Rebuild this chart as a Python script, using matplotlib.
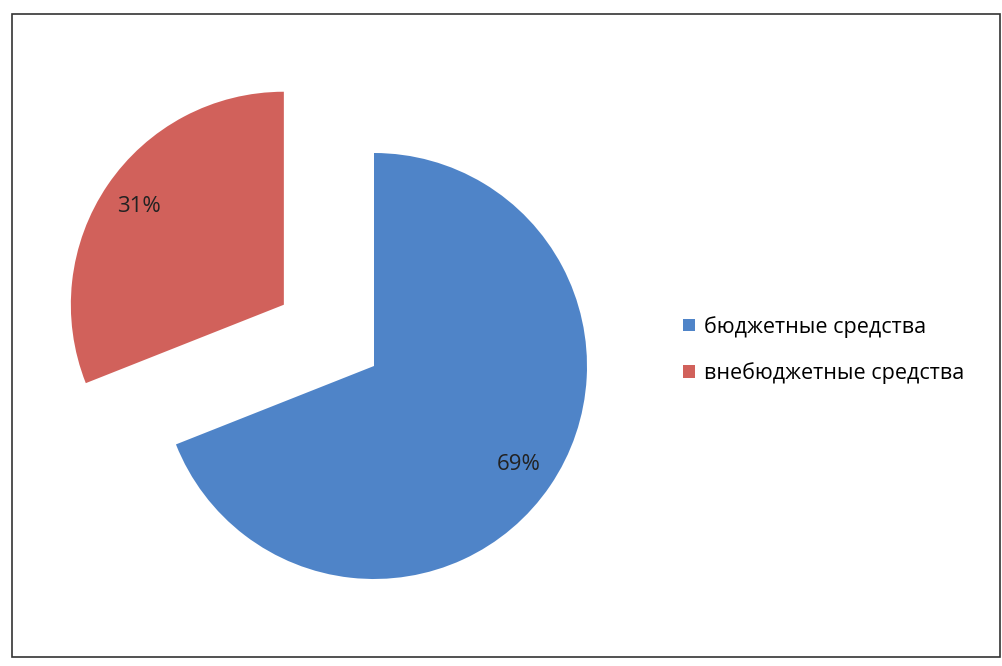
import matplotlib.pyplot as plt
from matplotlib.patches import Rectangle

labels = ["бюджетные средства", "внебюджетные средства"]
shares = [69, 31]
colors = ["#4f84c8", "#d1615b"]

plt.rcParams["font.family"] = ["Open Sans", "DejaVu Sans"]

fig = plt.figure(figsize=(10.02, 6.66), dpi=100)
ax = fig.add_axes([0, 0, 1, 1])

# frame of the chart area
ax.add_patch(Rectangle((12, 9), 988, 643, fill=False, edgecolor="#333333", linewidth=1.2))

# explode is in data units here (pixels), red slice pulled out ~0.51 radius
wedges, texts, autotexts = ax.pie(
    shares, colors=colors, startangle=90, counterclock=False,
    center=(374, 300), radius=213, explode=[0, 109],
    autopct="%1.0f%%", pctdistance=0.82, frame=True,
    textprops={"fontsize": 16, "color": "#222222"},
)
ax.set_xlim(0, 1002)
ax.set_ylim(0, 666)
ax.set_aspect("auto")
ax.axis("off")

leg = ax.legend(
    wedges, labels, loc="center left", bbox_to_anchor=(664 / 1002, 1 - 350 / 666),
    frameon=False, fontsize=15.5, handlelength=0.55, handleheight=0.55,
    handletextpad=0.4, labelspacing=1.15,
)

fig.savefig("out.png", dpi=100)
